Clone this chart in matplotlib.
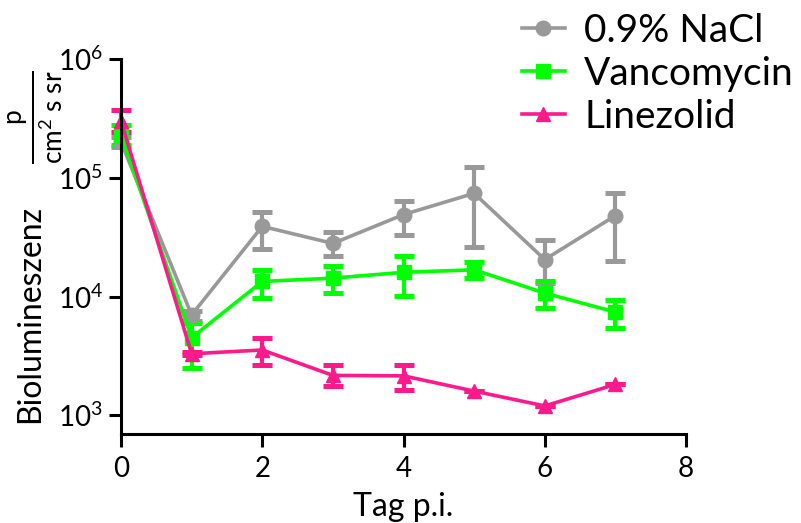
import matplotlib
matplotlib.use("Agg")
import matplotlib.pyplot as plt
import numpy as np

plt.rcParams['font.family'] = ['Lato', 'DejaVu Sans']
plt.rcParams['mathtext.fontset'] = 'custom'
plt.rcParams['mathtext.rm'] = 'Lato'
plt.rcParams['mathtext.it'] = 'Lato:italic'
plt.rcParams['mathtext.bf'] = 'Lato:bold'

days = [0, 1, 2, 3, 4, 5, 6, 7]

nacl_mean = [2.0e5, 7.0e3, 3.9e4, 2.8e4, 4.9e4, 7.4e4, 2.05e4, 4.8e4]
nacl_low = [1.8e5, 6.2e3, 2.5e4, 2.2e4, 3.3e4, 2.6e4, 1.3e4, 2.0e4]
nacl_high = [2.2e5, 7.6e3, 5.2e4, 3.5e4, 6.4e4, 1.23e5, 3.0e4, 7.5e4]

vanco_mean = [2.3e5, 4.5e3, 1.34e4, 1.43e4, 1.6e4, 1.68e4, 1.07e4, 7.4e3]
vanco_low = [1.9e5, 2.5e3, 9.7e3, 1.07e4, 1.02e4, 1.44e4, 8.0e3, 5.4e3]
vanco_high = [2.8e5, 6.0e3, 1.68e4, 1.8e4, 2.2e4, 1.94e4, 1.34e4, 9.4e3]

line_mean = [3.0e5, 3.3e3, 3.55e3, 2.17e3, 2.15e3, 1.6e3, 1.2e3, 1.82e3]
line_low = [2.45e5, 3.2e3, 2.67e3, 1.75e3, 1.64e3, 1.6e3, 1.2e3, 1.82e3]
line_high = [3.7e5, 3.4e3, 4.48e3, 2.67e3, 2.67e3, 1.6e3, 1.2e3, 1.82e3]

series = [
    ("0.9% NaCl", nacl_mean, nacl_low, nacl_high, "#999999", "o", 10.5),
    ("Vancomycin", vanco_mean, vanco_low, vanco_high, "#00FF00", "s", 9.5),
    ("Linezolid", line_mean, line_low, line_high, "#FF1A8C", "^", 10.5),
]

fig = plt.figure(figsize=(8.01, 5.23), dpi=100)
ax = fig.add_axes([121 / 801, 1 - 434 / 523, (686 - 121) / 801, (434 - 59) / 523])

for label, mean, low, high, color, marker, ms in series:
    mean = np.array(mean)
    yerr = [mean - np.array(low), np.array(high) - mean]
    ax.errorbar(days, mean, yerr=yerr, color=color, lw=2.6, marker=marker,
                ms=ms, mec=color, mfc=color, elinewidth=3.0,
                capsize=7, capthick=3.6, label=label, clip_on=False)

ax.set_yscale('log')
ax.set_ylim(10 ** 2.843, 1e6)
ax.set_xlim(0, 8)
ax.set_xticks([0, 2, 4, 6, 8])
ax.set_yticks([1e3, 1e4, 1e5, 1e6])
ax.yaxis.set_minor_locator(matplotlib.ticker.NullLocator())

for side in ('top', 'right'):
    ax.spines[side].set_visible(False)
for side in ('left', 'bottom'):
    ax.spines[side].set_linewidth(2.2)

ax.tick_params(axis='both', which='major', length=9, width=2.2, labelsize=20)
ax.tick_params(axis='x', pad=7)
ax.tick_params(axis='y', pad=4)
ax.set_xlabel("Tag p.i.", fontsize=23, labelpad=7)

# y label: quantity name plus unit fraction
fig.text(30 / 801, 1 - 314 / 523, "Biolumineszenz", rotation=90, fontsize=23,
         ha='center', va='center')
fig.text(36 / 801, 1 - 117 / 523, r"$\frac{\mathrm{p}}{\mathrm{cm^2\ s\ sr}}$", rotation=90,
         fontsize=27, ha='center', va='center')

leg_handles = [plt.Line2D([], [], color=c, lw=2.6, marker=m, ms=s, mec=c, mfc=c)
               for _, _, _, _, c, m, s in series]
fig.legend(leg_handles, [s[0] for s in series], loc='upper left',
           bbox_to_anchor=(522 / 801, 1 - 13 / 523), frameon=False, fontsize=28,
           handlelength=1.1, handletextpad=0.5, labelspacing=0.18,
           borderpad=0, borderaxespad=0)

fig.savefig("out.png", dpi=100)
